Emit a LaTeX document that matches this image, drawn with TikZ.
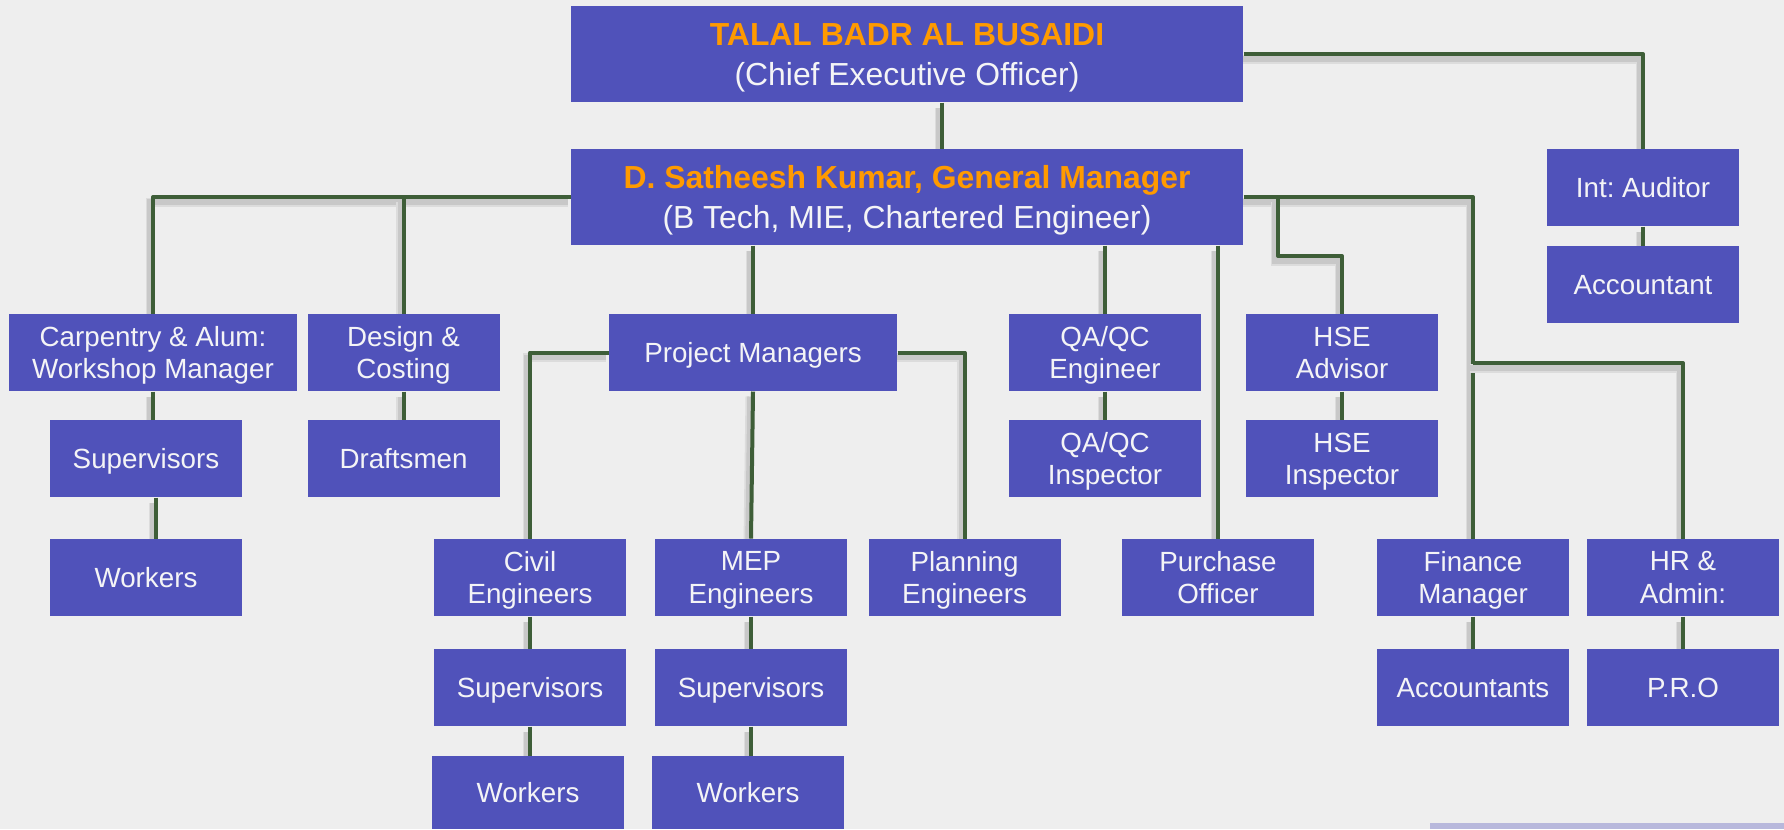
\documentclass[tikz,border=0pt]{standalone}
\usepackage{fontspec}
\setmainfont{Liberation Sans}
\definecolor{bgc}{HTML}{EEEEEE}
\definecolor{boxc}{HTML}{5052BA}
\definecolor{txtc}{HTML}{F4F4F6}
\definecolor{orc}{HTML}{FF9A00}
\definecolor{linec}{HTML}{3E5E38}
\definecolor{lav}{HTML}{B8B8DC}
\definecolor{shc}{HTML}{C8C8C8}
\definecolor{shd}{HTML}{DCDCDC}
\pgfdeclarelayer{bg}
\pgfsetlayers{bg,main}
\begin{document}
\frenchspacing
\begin{tikzpicture}[x=0.4pt,y=-0.4pt,
  box/.style={fill=boxc,text=txtc,inner sep=0pt,align=center,text depth=0pt,
    font=\fontsize{11.1}{12.9}\selectfont,minimum width=76.8pt,minimum height=30.8pt},
  bigbox/.style={box,font=\fontsize{12.75}{16}\selectfont,minimum width=268.8pt,minimum height=38.4pt},
  widebox/.style={minimum width=115.2pt},
  cutbox/.style={minimum height=29.2pt},
  conn/.style={draw=linec,line width=1.6pt,line join=round,
    preaction={draw=shd,line width=3.6pt,transform canvas={xshift=-1.2pt,yshift=-2pt}},
    preaction={draw=shc,line width=2.2pt,transform canvas={xshift=-1.2pt,yshift=-2pt}}}]
\useasboundingbox (0,0) rectangle (1784,829);
% top
\node[bigbox] (ceo) at (907,54) {\textcolor{orc}{\bfseries TALAL BADR AL BUSAIDI}\\(Chief Executive Officer)};
\node[bigbox] (gm) at (907,197) {\textcolor{orc}{\bfseries D. Satheesh Kumar, General Manager}\\(B Tech, MIE, Chartered Engineer)};
\node[box] (aud) at (1643,187.5) {Int: Auditor};
\node[box] (acc) at (1643,284.5) {Accountant};
% second row
\node[box,widebox] (carp) at (153,352.5) {Carpentry \& Alum:\\Workshop Manager};
\node[box] (des) at (403.5,352.5) {Design \&\\Costing};
\node[box,widebox] (pm) at (753,352.5) {Project Managers};
\node[box] (qa) at (1105,352.5) {QA/QC\\Engineer};
\node[box] (hse) at (1342,352.5) {HSE\\Advisor};
% third row
\node[box] (sup1) at (146,458.5) {Supervisors};
\node[box] (dra) at (403.5,458.5) {Draftsmen};
\node[box] (qai) at (1105,458.5) {QA/QC\\Inspector};
\node[box] (hsei) at (1342,458.5) {HSE\\Inspector};
% fourth row
\node[box] (wor1) at (146,577.5) {Workers};
\node[box] (civ) at (530,577.5) {Civil\\Engineers};
\node[box] (mep) at (751,577.5) {MEP\\Engineers};
\node[box] (pla) at (964.5,577.5) {Planning\\Engineers};
\node[box] (pur) at (1218,577.5) {Purchase\\Officer};
\node[box] (fin) at (1473,577.5) {Finance\\Manager};
\node[box] (hr) at (1683,577.5) {HR \&\\Admin:};
% fifth row
\node[box] (sup2) at (530,687.5) {Supervisors};
\node[box] (sup3) at (751,687.5) {Supervisors};
\node[box] (acs) at (1473,687.5) {Accountants};
\node[box] (pro) at (1683,687.5) {P.R.O};
% sixth row
\node[box,cutbox] (wor2) at (528,792.5) {Workers};
\node[box,cutbox] (wor3) at (748,792.5) {Workers};
\fill[lav] (1430,823) rectangle (1784,829);
% helper coordinates
\coordinate (k1) at (942,0);
\coordinate (k5) at (156,0);
\coordinate (hb) at (1278,256);
\coordinate (hrb) at (1473,363);
\begin{pgfonlayer}{bg}
\fill[bgc] (0,0) rectangle (1784,829);
\draw[conn] (ceo.south -| k1) -- (gm.north -| k1);
\draw[conn] (ceo.east) -| (aud.north);
\draw[conn] (aud.south) -- (acc.north);
\draw[conn] (gm.west) -| (carp.north);
\draw[conn] (gm.west -| des.north) -- (des.north);
\draw[conn] (gm.south -| pm.north) -- (pm.north);
\draw[conn] (gm.south -| qa.north) -- (qa.north);
\draw[conn] (gm.south -| pur.north) -- (pur.north);
\draw[conn] (gm.east) -| (fin.north);
\draw[conn] (gm.east -| hb) -- (hb) -| (hse.north);
\draw[conn] (hrb) -| (hr.north);
\draw[conn] (pm.west) -| (civ.north);
\draw[conn] (pm.east) -| (pla.north);
\draw[conn] (pm.south) -- (mep.north);
\draw[conn] (carp.south) -- (carp.south |- sup1.north);
\draw[conn] (sup1.south -| k5) -- (wor1.north -| k5);
\draw[conn] (des.south) -- (dra.north);
\draw[conn] (civ.south) -- (sup2.north);
\draw[conn] (sup2.south) -- (sup2.south |- wor2.north);
\draw[conn] (mep.south) -- (sup3.north);
\draw[conn] (sup3.south) -- (sup3.south |- wor3.north);
\draw[conn] (qa.south) -- (qai.north);
\draw[conn] (hse.south) -- (hsei.north);
\draw[conn] (fin.south) -- (acs.north);
\draw[conn] (hr.south) -- (pro.north);
\end{pgfonlayer}
\end{tikzpicture}
\end{document}
